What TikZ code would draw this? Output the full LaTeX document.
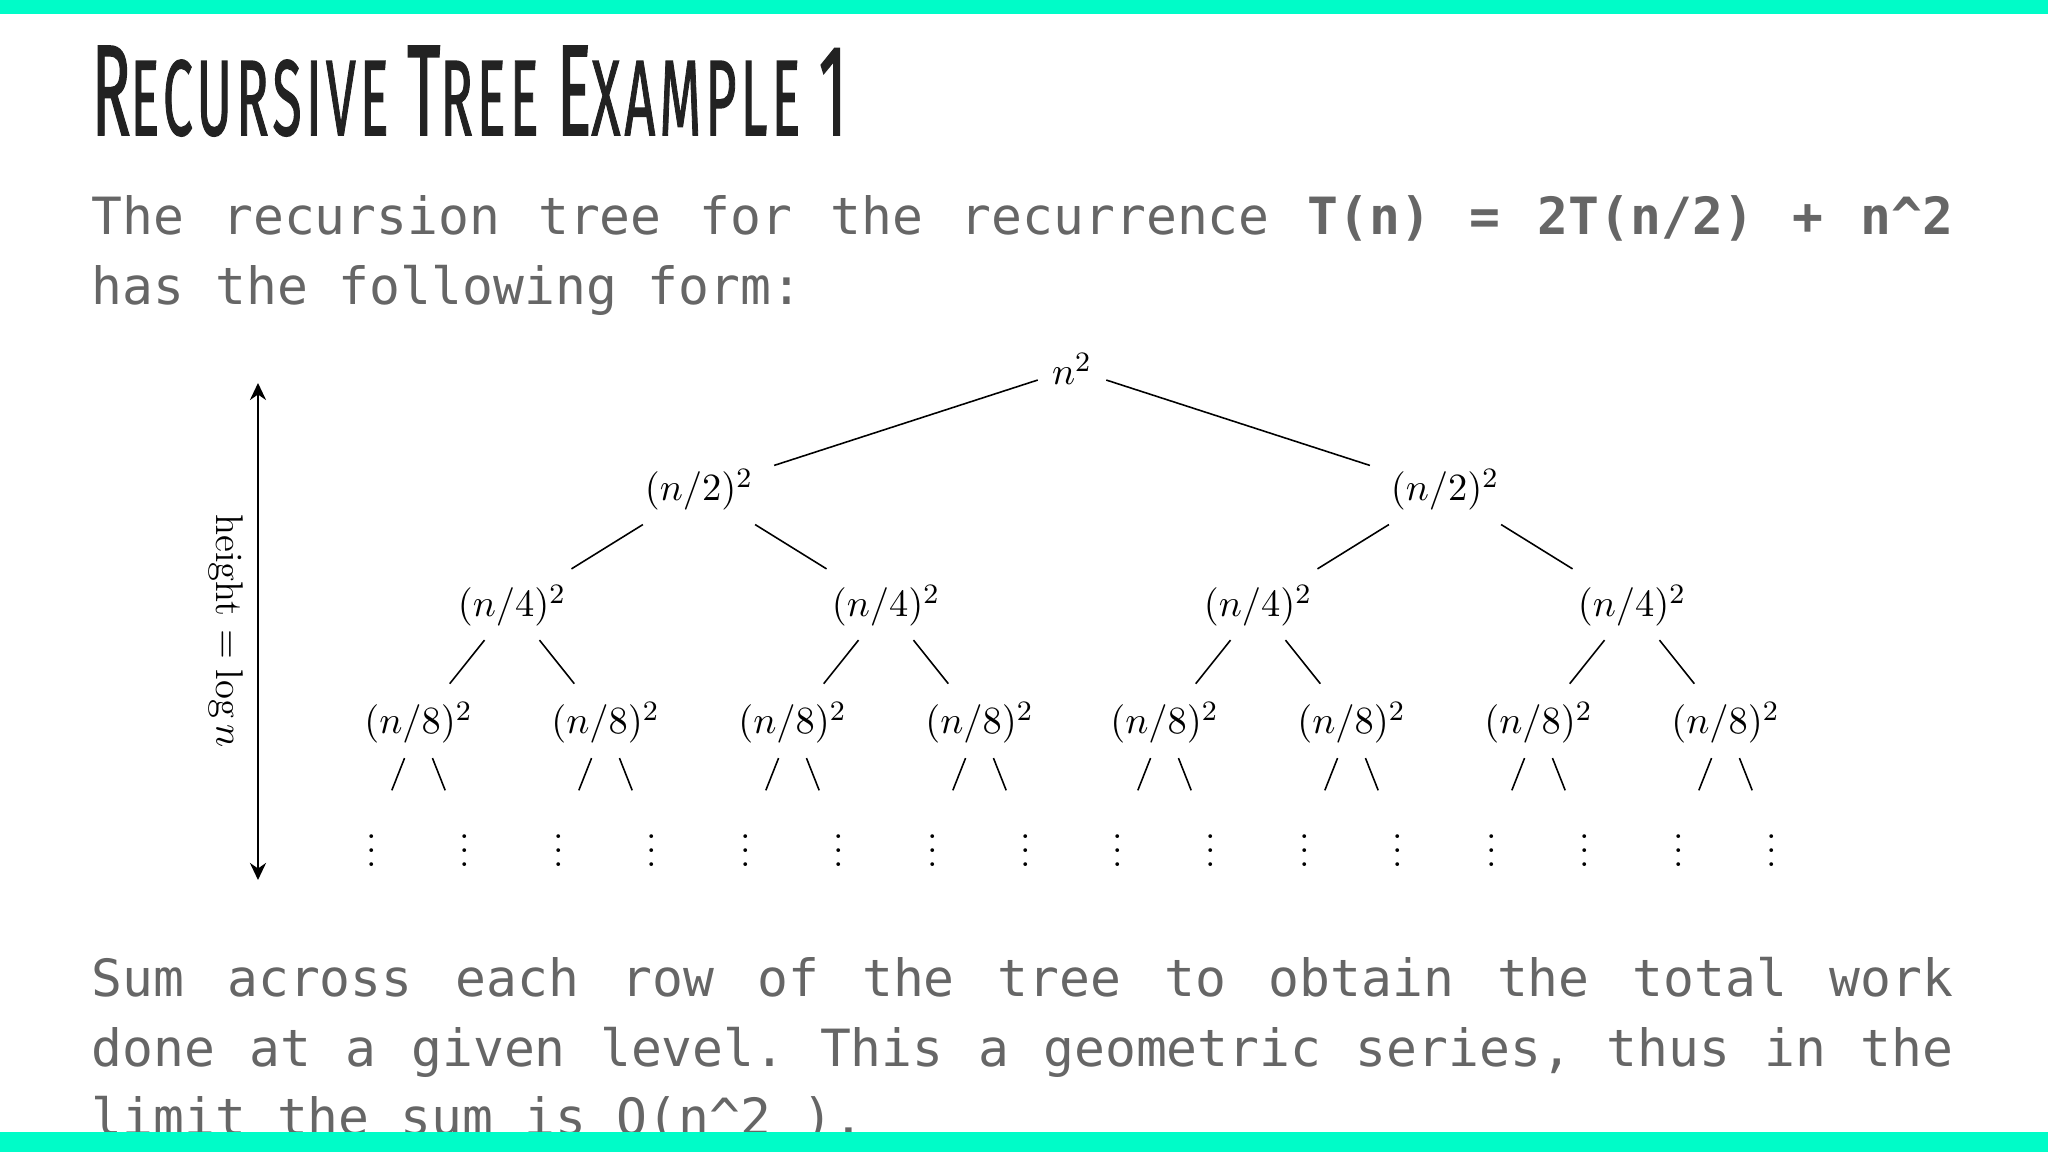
\documentclass[tikz,border=0pt]{standalone}
\usepackage{fontspec}
\usepackage{graphicx}
\usetikzlibrary{arrows.meta}
\setmonofont{DejaVu Sans Mono}
\newfontfamily\titlefont[LetterSpace=8, FakeBold=1.5]{Fira Sans}
\definecolor{bar}{RGB}{0,252,200}
\definecolor{txtgray}{RGB}{102,102,102}
\definecolor{ink}{RGB}{34,34,34}
\newcommand\tcap[1]{{\fontsize{36.7}{40}\selectfont #1}}
\newcommand\codetext{\ttfamily\fontsize{14.6}{19.64}\selectfont\spaceskip=8.8pt plus 12pt minus 1pt\frenchspacing}
\tikzset{
  para/.style={anchor=base west, inner sep=0pt, text width=186.2mm, align=justify, text=txtgray, font=\codetext},
  lvl/.style={anchor=base, inner sep=0pt, font=\fontsize{11}{13}\selectfont},
  branch/.style={draw, line width=0.45pt},
  s1/.style={branch, shorten <=3.6mm, shorten >=7.9mm},
  s2/.style={branch, shorten <=6.6mm, shorten >=7.0mm},
  s3/.style={branch, shorten <=4.4mm, shorten >=5.0mm},
  s4/.style={branch, shorten <=3.8mm, shorten >=5.4mm}
}
\begin{document}
\begin{tikzpicture}[x=0.1mm, y=-0.1mm, >={Stealth[length=1.7mm,width=1.6mm]}]
  \fill[white] (0,0) rectangle (2048,1152);

  % heading and text
  \node[anchor=base west, inner sep=0pt, text=ink, font=\titlefont\fontsize{30.5}{34}\selectfont] (title) at (91,135)
    {\resizebox{75.5mm}{\height}{\tcap{R}ECURSIVE \tcap{T}REE \tcap{E}XAMPLE \tcap{1}}};
  \node[para] (intro) at (91,235) {The recursion tree for the recurrence \textbf{T(n) = 2T(n/2) + n\textasciicircum2}\linebreak has the following form:};

  % root and level 1
  \node[lvl] (r) at (1072,385) {$n^2$};
  \node[lvl] (h1) at (699,501) {$(n/2)^2$};
  \node[lvl] (h2) at (1445,501) {$(n/2)^2$};

  % level 2
  \node[lvl] (q1) at (512,617) {$(n/4)^2$};
  \node[lvl] (q2) at (886,617) {$(n/4)^2$};
  \node[lvl] (q3) at (1258,617) {$(n/4)^2$};
  \node[lvl] (q4) at (1632,617) {$(n/4)^2$};

  % level 3
  \node[lvl] (e1) at (418.5,734) {$(n/8)^2$};
  \node[lvl] (e2) at (605.5,734) {$(n/8)^2$};
  \node[lvl] (e3) at (792.5,734) {$(n/8)^2$};
  \node[lvl] (e4) at (979.5,734) {$(n/8)^2$};
  \node[lvl] (e5) at (1164.5,734) {$(n/8)^2$};
  \node[lvl] (e6) at (1351.5,734) {$(n/8)^2$};
  \node[lvl] (e7) at (1538.5,734) {$(n/8)^2$};
  \node[lvl] (e8) at (1725.5,734) {$(n/8)^2$};

  % dots
  \node[lvl] (d1) at (372,867) {$\vdots$};
  \node[lvl] (d2) at (465,867) {$\vdots$};
  \node[lvl] (d3) at (559,867) {$\vdots$};
  \node[lvl] (d4) at (652,867) {$\vdots$};
  \node[lvl] (d5) at (746,867) {$\vdots$};
  \node[lvl] (d6) at (839,867) {$\vdots$};
  \node[lvl] (d7) at (933,867) {$\vdots$};
  \node[lvl] (d8) at (1026,867) {$\vdots$};
  \node[lvl] (d9) at (1118,867) {$\vdots$};
  \node[lvl] (d10) at (1211,867) {$\vdots$};
  \node[lvl] (d11) at (1305,867) {$\vdots$};
  \node[lvl] (d12) at (1398,867) {$\vdots$};
  \node[lvl] (d13) at (1492,867) {$\vdots$};
  \node[lvl] (d14) at (1585,867) {$\vdots$};
  \node[lvl] (d15) at (1679,867) {$\vdots$};
  \node[lvl] (d16) at (1772,867) {$\vdots$};

  % branches
  \path (r.center) edge[s1] (h1.center) (r.center) edge[s1] (h2.center);
  \path (h1.center) edge[s2] (q1.center) (h1.center) edge[s2] (q2.center)
        (h2.center) edge[s2] (q3.center) (h2.center) edge[s2] (q4.center);
  \path (q1.center) edge[s3] (e1.center) (q1.center) edge[s3] (e2.center)
        (q2.center) edge[s3] (e3.center) (q2.center) edge[s3] (e4.center)
        (q3.center) edge[s3] (e5.center) (q3.center) edge[s3] (e6.center)
        (q4.center) edge[s3] (e7.center) (q4.center) edge[s3] (e8.center);
  \path (e1.center) edge[s4] (d1.center) (e1.center) edge[s4] (d2.center)
        (e2.center) edge[s4] (d3.center) (e2.center) edge[s4] (d4.center)
        (e3.center) edge[s4] (d5.center) (e3.center) edge[s4] (d6.center)
        (e4.center) edge[s4] (d7.center) (e4.center) edge[s4] (d8.center)
        (e5.center) edge[s4] (d9.center) (e5.center) edge[s4] (d10.center)
        (e6.center) edge[s4] (d11.center) (e6.center) edge[s4] (d12.center)
        (e7.center) edge[s4] (d13.center) (e7.center) edge[s4] (d14.center)
        (e8.center) edge[s4] (d15.center) (e8.center) edge[s4] (d16.center);

  % height
  \coordinate (ht) at (258,383);
  \coordinate (hb) at (258,880);
  \draw[<->, line width=0.8pt] (ht) -- (hb);
  \node[rotate=-90, inner sep=0pt, font=\fontsize{11}{13}\selectfont] (hl) at (226,631) {height $=\log n$};

  \node[para] (summary) at (91,997) {Sum across each row of the tree to obtain the total work\linebreak done at a given level. This a geometric series, thus in the\linebreak limit the sum is O(n\textasciicircum2 ).};

  % bars
  \fill[bar] (0,0) rectangle (2048,14);
  \fill[bar] (0,1132) rectangle (2048,1152);
\end{tikzpicture}
\end{document}
